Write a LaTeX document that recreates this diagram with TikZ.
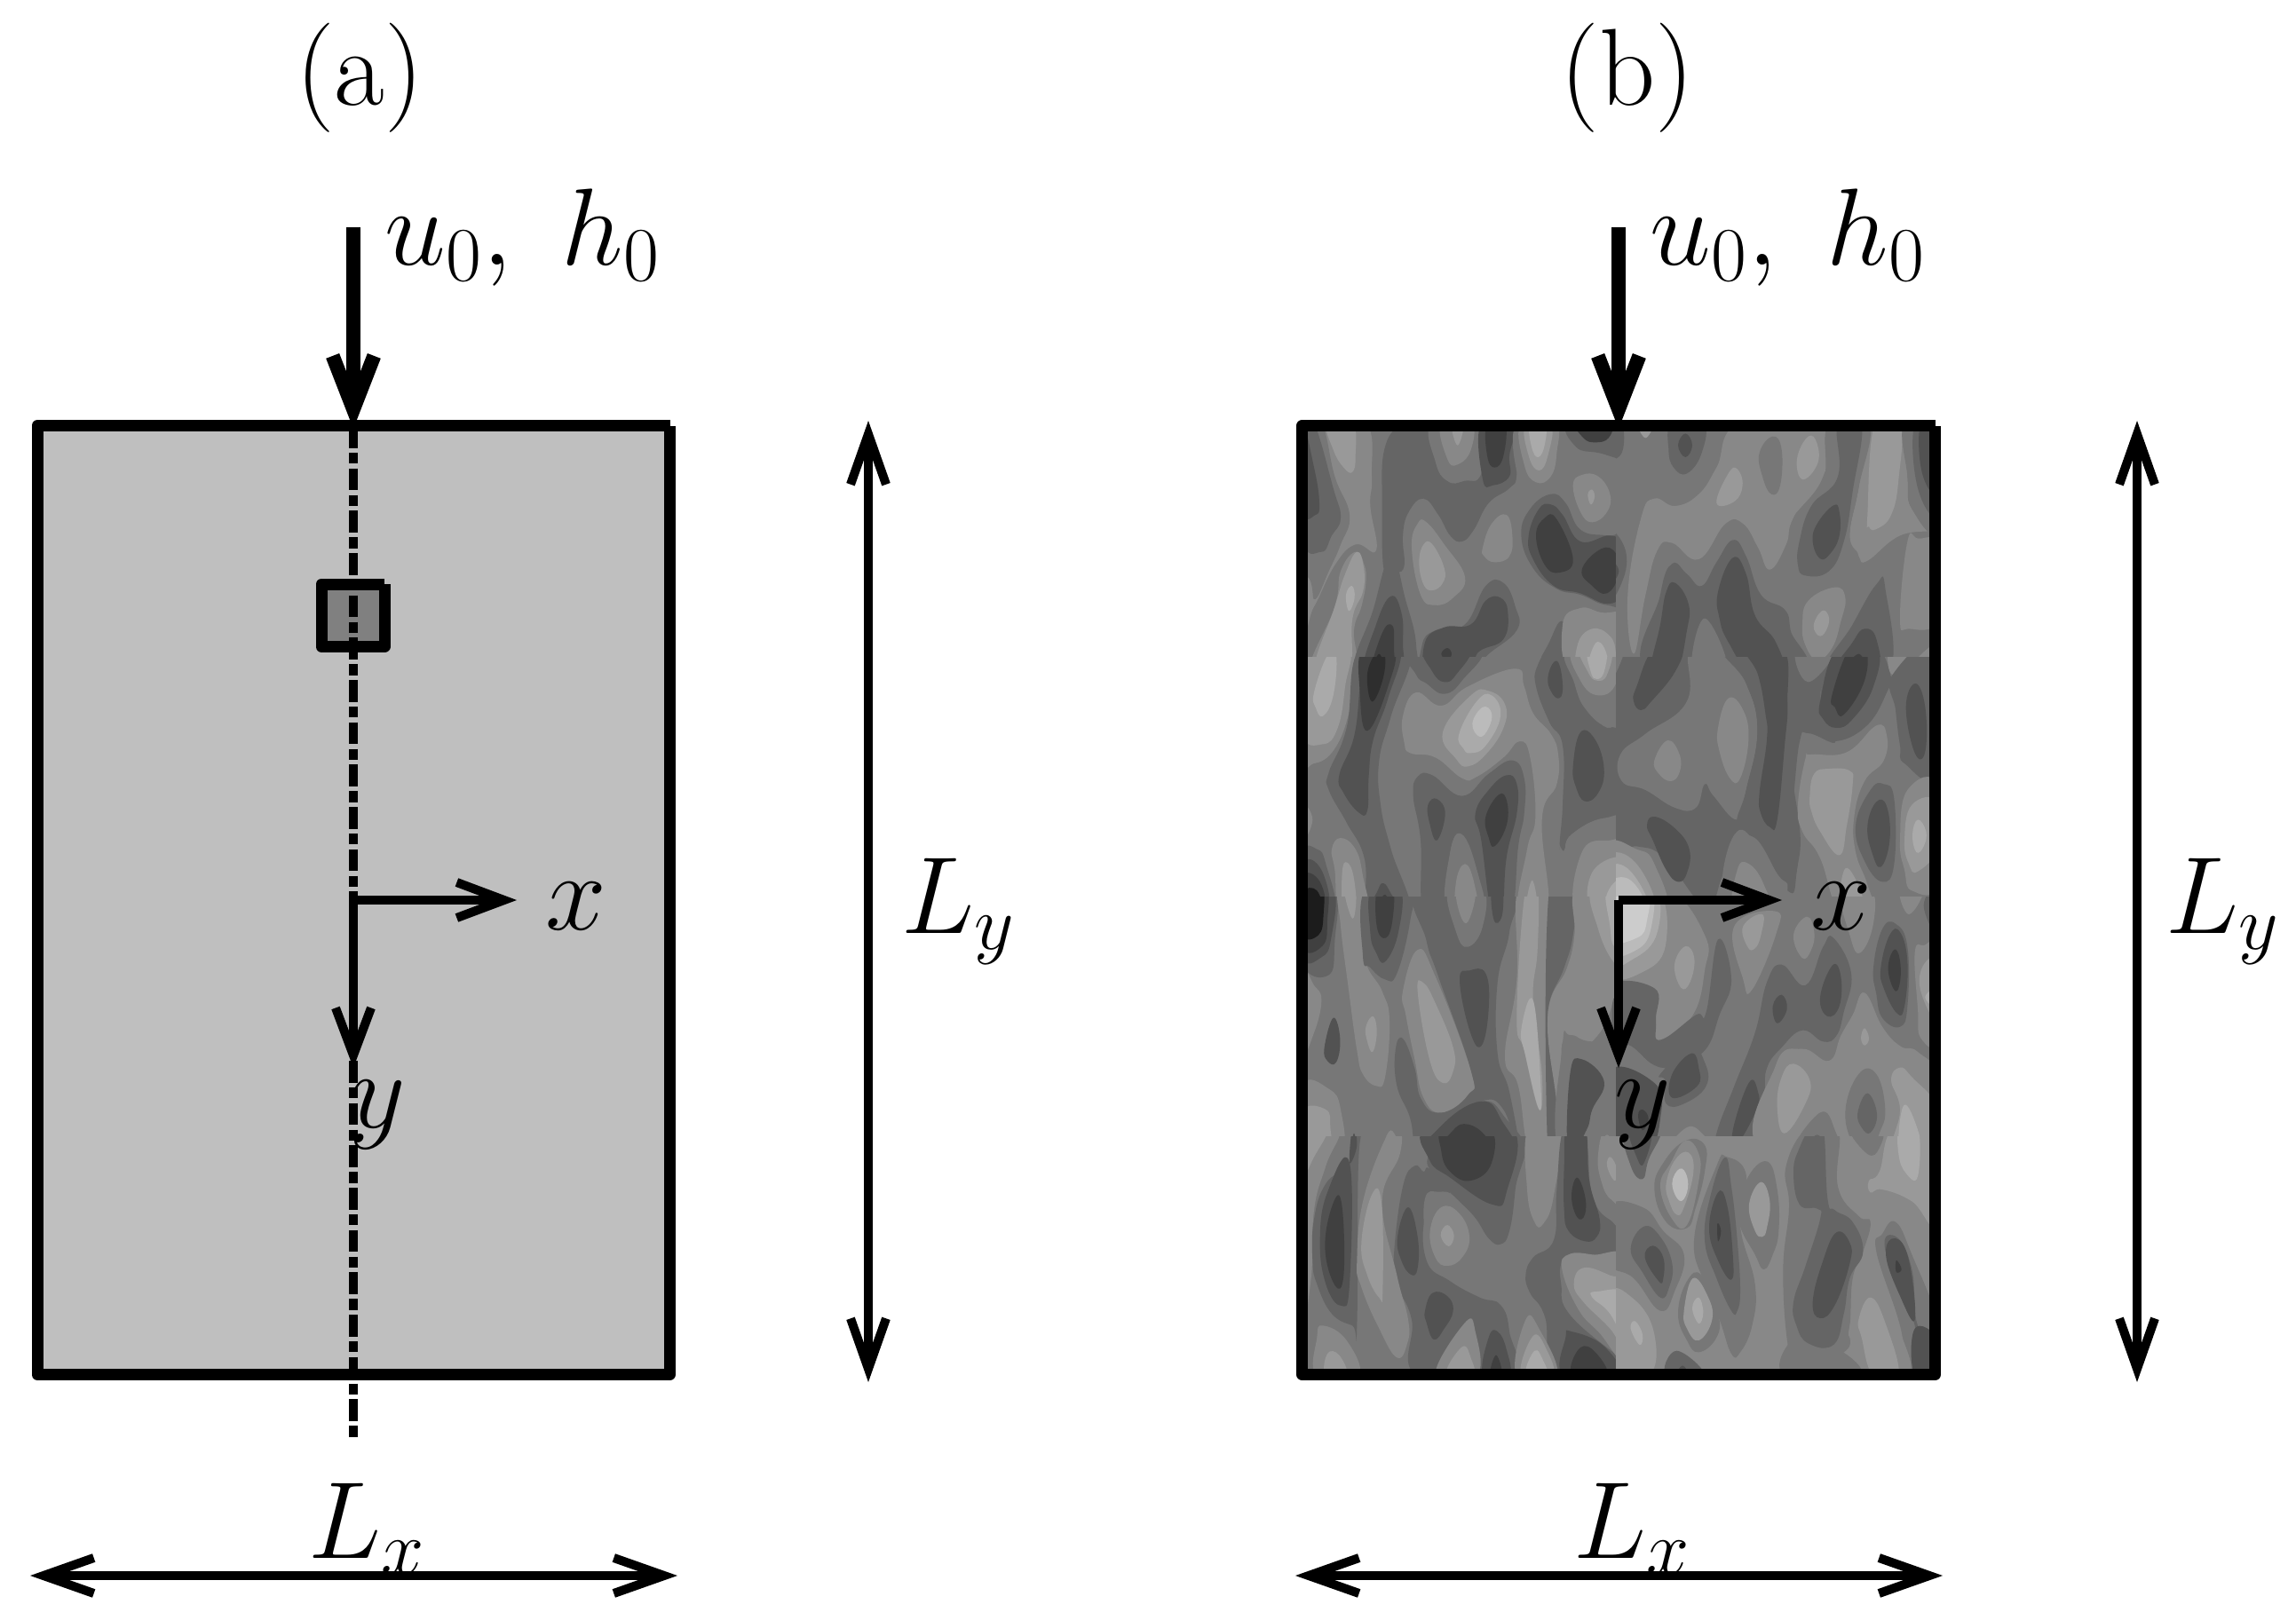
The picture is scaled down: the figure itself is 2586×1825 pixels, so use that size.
\RequirePackage{fix-cm}
\documentclass[tikz,border=0pt]{standalone}
\usetikzlibrary{arrows.meta}
\DeclareMathSizes{37}{37}{26}{18.5}
\definecolor{gA}{HTML}{1C1C1C}
\definecolor{gB}{HTML}{2E2E2E}
\definecolor{gC}{HTML}{404040}
\definecolor{gD}{HTML}{525252}
\definecolor{gE}{HTML}{656565}
\definecolor{gF}{HTML}{777777}
\definecolor{gG}{HTML}{888888}
\definecolor{gH}{HTML}{999999}
\definecolor{gI}{HTML}{AAAAAA}
\definecolor{gJ}{HTML}{BBBBBB}
\definecolor{gK}{HTML}{CCCCCC}
\newcommand{\blob}[2]{\fill[#1] plot[smooth cycle,tension=0.75] coordinates {#2};}
\newcommand{\uhlabel}{$u_0,\hspace{10.5pt}h_0$}
\tikzset{
 frame/.style={line width=3.9pt,line join=round},
 axis arrow/.style={line width=3pt,-{Straight Barb[length=16pt,width=12pt]}},
 dim arrow/.style={line width=3pt,{Straight Barb[length=17pt,width=12pt]}-{Straight Barb[length=17pt,width=12pt]}},
 inlet arrow/.style={line width=4.8pt,-{Straight Barb[length=18pt,width=14pt]}},
 label/.style={inner sep=0pt,font=\fontsize{37}{44}\selectfont},
 tile/.style={shift={#1},x=0.1pt,y=-0.1pt},
}
\begin{document}
\begin{tikzpicture}[x=0.3pt,y=-0.3pt]
\useasboundingbox (0,0) rectangle (2586,1825);
% ---------- panel (a)
\fill[black!25] (42,480) rectangle (754,1548);
\draw[frame] (754.5,479.5) -- (42,479.5) -- (42,1548.5) -- (754.5,1548.5) -- (754.5,479.5);
\fill[black!50] (362,658) rectangle (433,728);
\draw[frame] (433,658) -- (362,658) -- (362,728.5) -- (433,728.5) -- (433,658);
\coordinate (cA0) at (398,480);
\coordinate (cA1) at (398,1619);
\draw[line width=3pt,dash pattern=on 7.4pt off 1.6pt on 3.7pt off 1.6pt] (cA0) -- (cA1);
\node[label] (a) at (405,88) {(a)};
\coordinate (inA) at (398,256);
\coordinate (inAe) at (398,483);
\draw[inlet arrow] (inA) -- (inAe);
\node[label,anchor=base west] (uA) at (433,298) {\uhlabel};
\coordinate (oA) at (398,1014);
\coordinate (xA) at (582,1014);
\coordinate (yA) at (398,1203);
\draw[axis arrow] (oA) -- (xA);
\draw[axis arrow] (oA) -- (yA);
\node[label,anchor=base west] (xlA) at (614,1047) {$x$};
\node[label,anchor=base west] (ylA) at (393,1270) {$y$};
\coordinate (LyAt) at (978,474);
\coordinate (LyAb) at (978,1557);
\draw[dim arrow] (LyAt) -- (LyAb);
\node[label,anchor=base west] (LyA) at (1015,1051) {$L_y$};
\coordinate (LxAl) at (34,1775);
\coordinate (LxAr) at (763,1775);
\draw[dim arrow] (LxAl) -- (LxAr);
\node[label,anchor=base west] (LxA) at (347,1755) {$L_x$};
% ---------- panel (b): contour field, traced tile by tile
\begin{scope}
\clip (1473,486) rectangle (2173,1542);
% tile 1
\begin{scope}[tile={(1460,470)}]
\clip (0,0) rectangle (1110,840);
\fill[gF] (0,0) rectangle (1110,840);
\blob{gE}{(300,100) (370,20) (455,20) (470,130) (510,215) (570,215) (625,190) (640,20) (740,20) (745,190) (720,240) (650,290) (600,380) (560,420) (520,400) (480,330) (430,275) (380,320) (360,400) (365,500) (340,520) (320,470) (295,510) (290,300)}
\blob{gF}{(458,20) (612,20) (610,150) (570,210) (510,215) (470,150)}
\blob{gG}{(490,20) (590,20) (590,110) (545,160) (510,140)}
\blob{gH}{(525,20) (565,20) (545,95)}
\blob{gD}{(625,20) (735,20) (720,130) (720,200) (665,230) (630,210)}
\blob{gC}{(645,20) (705,20) (700,130) (670,170) (645,130)}
\blob{gF}{(745,20) (890,20) (905,180) (850,225) (790,255) (750,210)}
\blob{gG}{(760,20) (875,20) (880,120) (860,200) (810,220) (770,160)}
\blob{gH}{(775,20) (860,20) (850,130) (820,180) (785,130)}
\blob{gI}{(790,20) (840,20) (840,90) (818,135) (795,100)}
\blob{gE}{(925,20) (1130,20) (1130,135) (1020,120) (945,100)}
\blob{gC}{(950,20) (1060,20) (1055,70) (1010,85) (970,70)}
\blob{gG}{(935,230) (965,195) (1020,200) (1060,260) (1050,320) (1000,355) (960,320)}
\blob{gH}{(985,260) (1000,245) (1008,270) (995,295)}
\blob{gE}{(760,400) (790,310) (860,260) (910,290) (960,380) (1050,400) (1130,410) (1130,620) (1050,635) (960,600) (880,580) (800,510)}
\blob{gD}{(785,400) (820,310) (860,295) (900,330) (960,420) (1060,400) (1095,440) (1095,590) (1050,630) (960,595) (870,570) (800,480)}
\blob{gC}{(810,400) (840,340) (880,345) (935,480) (890,525) (840,500)}
\blob{gC}{(965,515) (1030,445) (1080,460) (1090,530) (1050,595) (1000,570)}
\blob{gG}{(630,440) (660,360) (710,330) (730,400) (720,470) (670,490) (635,470)}
\blob{gG}{(390,440) (410,360) (440,355) (500,430) (570,540) (530,610) (470,635) (420,600)}
\blob{gH}{(415,490) (430,430) (460,430) (500,510) (495,560) (460,585) (430,565)}
\blob{gG}{(85,20) (235,20) (255,200) (250,300) (270,450) (200,430) (130,500) (60,640) (20,680) (20,20)}
\blob{gH}{(105,20) (190,20) (200,130) (190,185) (160,170) (125,110)}
\blob{gF}{(20,20) (85,20) (130,200) (180,330) (150,430) (110,520) (65,615) (50,560) (20,450)}
\blob{gE}{(20,400) (85,455) (120,400) (150,340) (125,240) (60,20) (20,20)}
\blob{gD}{(20,310) (65,330) (78,290) (60,170) (20,30)}
\blob{gF}{(20,870) (20,780) (90,620) (150,500) (200,440) (250,490) (255,600) (215,800) (205,870)}
\blob{gG}{(45,870) (130,640) (150,520) (200,455) (230,500) (235,560) (220,640) (195,720) (195,870)}
\blob{gH}{(60,870) (130,640) (165,530) (205,455) (228,510) (225,590) (190,680) (175,870)}
\blob{gI}{(168,600) (188,570) (197,610) (178,655)}
\blob{gI}{(95,870) (115,810) (135,870)}
\blob{gE}{(200,870) (260,650) (320,470) (370,620) (405,770) (385,870)}
\blob{gD}{(230,870) (270,700) (320,605) (355,660) (360,760) (350,870)}
\blob{gC}{(255,870) (290,730) (325,705) (330,780) (325,870)}
\blob{gB}{(255,870) (280,800) (298,870)}
\blob{gE}{(425,770) (470,720) (570,700) (640,570) (700,560) (740,640) (745,720) (640,810) (610,870) (440,870)}
\blob{gD}{(435,760) (500,710) (590,700) (640,620) (690,610) (715,660) (700,750) (620,790) (580,840) (450,870)}
\blob{gC}{(490,800) (510,780) (525,800) (510,820)}
\blob{gE}{(815,870) (855,760) (900,690) (930,800) (930,870)}
\blob{gD}{(855,870) (870,825) (892,870)}
\blob{gG}{(900,700) (960,645) (1030,660) (1130,680) (1130,870) (935,870)}
\blob{gH}{(950,770) (1000,715) (1060,740) (1080,800) (1075,870) (960,870)}
\blob{gI}{(985,870) (1010,765) (1045,790) (1050,870)}
\end{scope}
% tile 2
\begin{scope}[tile={(1820,470)}]
\clip (0,0) rectangle (1110,840);
\fill[gF] (0,0) rectangle (1110,840);
\blob{gG}{(85,340) (130,275) (200,300) (280,260) (340,170) (420,20) (720,20) (700,200) (600,340) (575,430) (520,515) (480,440) (430,360) (370,360) (280,480) (190,425) (140,450) (100,600) (60,800) (40,600)}
\blob{gG}{(855,20) (975,20) (985,200) (1000,310) (1090,375) (960,400) (850,485) (820,470) (790,400) (820,240)}
\blob{gE}{(178,110) (190,20) (295,20) (290,120) (240,190) (195,170)}
\blob{gD}{(210,95) (235,55) (258,95) (235,135)}
\blob{gE}{(-30,20) (20,20) (20,120) (-30,130)}
\blob{gH}{(75,20) (125,20) (100,70)}
\blob{gF}{(485,120) (530,65) (560,110) (555,230) (525,260) (495,200)}
\blob{gH}{(612,140) (650,65) (680,90) (680,160) (630,210)}
\blob{gH}{(340,290) (380,190) (410,175) (428,230) (400,285)}
\blob{gF}{(720,20) (855,20) (820,240) (790,400) (820,470) (780,500) (700,530) (620,530) (620,430) (600,340) (700,220)}
\blob{gE}{(660,300) (750,200) (750,20) (830,20) (800,250) (770,420) (720,520) (640,535) (615,500) (620,420)}
\blob{gD}{(665,420) (680,360) (735,298) (755,320) (755,400) (725,460) (690,478)}
\blob{gH}{(850,330) (875,20) (960,20) (955,210) (930,330) (880,378) (855,370)}
\blob{gF}{(975,20) (1090,20) (1090,375) (1000,310) (985,200)}
\blob{gE}{(1010,20) (1090,20) (1090,320) (1020,240)}
\blob{gD}{(1030,20) (1090,20) (1090,250) (1035,190)}
\blob{gE}{(120,870) (150,600) (190,495) (240,530) (290,570) (340,490) (395,415) (440,470) (490,600) (570,650) (590,720) (610,870)}
\blob{gF}{(260,870) (300,680) (380,870)}
\blob{gD}{(120,870) (150,700) (170,590) (200,560) (245,630) (240,720) (200,870)}
\blob{gD}{(345,590) (395,475) (440,530) (470,670) (540,760) (565,870) (460,870) (380,760) (350,680)}
\blob{gG}{(630,700) (650,620) (740,575) (775,610) (760,690) (730,780) (680,820) (640,770)}
\blob{gH}{(668,705) (695,655) (718,670) (715,710) (690,740)}
\blob{gE}{(710,870) (800,700) (880,565) (910,578) (920,870)}
\blob{gD}{(740,870) (800,760) (840,715) (880,750) (880,870)}
\blob{gC}{(770,870) (820,800) (845,870)}
\blob{gG}{(960,680) (985,420) (1020,410) (1090,440) (1090,680) (990,715)}
\blob{gG}{(980,870) (1090,760) (1090,870)}
\blob{gE}{(-30,400) (25,430) (30,530) (-30,620)}
\blob{gD}{(-30,480) (10,520) (-30,570)}
\end{scope}
% tile 3
\begin{scope}[tile={(1460,740)}]
\clip (0,0) rectangle (1110,840);
\fill[gF] (0,0) rectangle (1110,840);
\blob{gG}{(20,330) (60,360) (130,310) (180,180) (195,48) (200,-30) (20,-30)}
\blob{gH}{(20,250) (90,295) (140,240) (165,100) (175,-30) (45,-30)}
\blob{gI}{(60,120) (105,-5) (135,-5) (125,130) (90,200) (65,170)}
\blob{gE}{(110,390) (170,240) (215,-30) (385,-30) (320,200) (280,350) (285,500) (320,650) (385,870) (250,870) (230,680) (170,560) (110,450)}
\blob{gD}{(145,400) (195,270) (215,100) (230,-30) (350,-30) (310,140) (260,280) (245,400) (240,520) (210,525) (160,460)}
\blob{gC}{(215,120) (225,-30) (330,-30) (310,100) (240,250)}
\blob{gB}{(240,90) (250,20) (290,-30) (298,50) (260,150)}
\blob{gG}{(20,500) (55,550) (20,620)}
\blob{gG}{(120,650) (150,612) (200,650) (225,740) (240,870) (150,870) (130,720)}
\blob{gH}{(155,730) (172,695) (195,750) (200,870) (160,870)}
\blob{gE}{(20,665) (70,650) (100,700) (130,870) (20,870)}
\blob{gD}{(20,700) (85,720) (110,870) (20,870)}
\blob{gC}{(20,740) (80,760) (95,870) (20,870)}
\blob{gA}{(20,795) (70,790) (85,870) (20,870)}
\blob{gD}{(250,870) (275,790) (295,765) (320,800) (355,870)}
\blob{gC}{(278,870) (295,805) (315,830) (325,870)}
\blob{gE}{(380,-30) (620,-30) (560,80) (500,125) (440,90) (405,60)}
\blob{gD}{(435,-30) (585,-30) (540,60) (500,85) (460,50)}
\blob{gG}{(365,290) (360,200) (405,120) (490,165) (580,100) (740,40) (770,100) (800,190) (860,260) (885,330) (880,430) (830,550) (850,870) (750,870) (780,650) (808,540) (790,340) (755,285) (700,340) (610,405) (560,410) (470,340) (385,325)}
\blob{gH}{(495,255) (590,130) (650,115) (705,160) (700,240) (640,330) (580,370) (540,345)}
\blob{gI}{(550,260) (610,150) (660,130) (690,200) (640,300) (590,325) (565,310)}
\blob{gJ}{(595,225) (630,170) (660,190) (650,240) (620,270)}
\blob{gH}{(775,870) (797,755) (815,870)}
\blob{gE}{(395,470) (410,405) (460,400) (560,470) (650,395) (730,350) (770,410) (770,530) (750,640) (725,870) (650,870) (610,720) (560,600) (520,660) (510,870) (430,870) (420,620)}
\blob{gD}{(605,530) (650,450) (710,400) (745,430) (745,530) (710,680) (695,870) (660,870) (625,620)}
\blob{gC}{(640,540) (685,465) (712,490) (710,570) (670,640) (650,610)}
\blob{gD}{(445,500) (475,480) (503,530) (475,620) (450,560)}
\blob{gF}{(510,870) (520,660) (560,600) (610,720) (630,870)}
\blob{gG}{(540,760) (570,700) (600,760) (610,870) (545,870)}
\blob{gE}{(900,300) (855,220) (810,100) (815,30) (860,-30) (925,-30) (960,130) (1050,240) (1130,200) (1130,570) (1040,545) (930,600) (905,655) (890,640) (900,500)}
\blob{gD}{(850,70) (870,18) (890,30) (900,110) (885,140) (860,115)}
\blob{gD}{(935,370) (960,255) (1010,280) (1040,380) (1020,460) (975,488) (945,440)}
\blob{gF}{(920,-30) (1130,-30) (1130,200) (1055,235) (980,180) (940,90)}
\blob{gG}{(935,-30) (1090,-30) (1080,90) (1020,130) (960,80)}
\blob{gH}{(960,-30) (1060,-30) (1050,60) (1015,80) (985,50)}
\blob{gI}{(985,-30) (1045,-30) (1040,50) (1015,75) (995,50)}
\blob{gF}{(890,650) (905,655) (930,600) (1040,545) (1130,575) (1130,870) (945,870)}
\blob{gG}{(950,870) (965,660) (1060,620) (1130,640) (1130,870)}
\blob{gH}{(1000,870) (1005,720) (1130,690) (1130,870)}
\blob{gI}{(1050,870) (1060,780) (1130,745) (1130,870)}
\blob{gF}{(1095,370) (1130,300) (1130,430)}
\end{scope}
% tile 4
\begin{scope}[tile={(1820,740)}]
\clip (0,0) rectangle (1110,840);
\fill[gF] (0,0) rectangle (1110,840);
\blob{gE}{(-30,100) (60,-30) (250,-30) (480,-30) (610,500) (610,730) (580,790) (480,620) (410,590) (360,740) (300,840) (165,680) (70,640) (-30,640)}
\blob{gF}{(-30,-30) (30,-30) (-30,100)}
\blob{gD}{(60,150) (70,100) (130,-30) (220,-30) (200,50) (120,150) (85,180)}
\blob{gF}{(15,330) (100,260) (240,150) (250,-30) (360,-30) (440,90) (478,250) (440,450) (410,550) (330,470) (300,430) (270,510) (200,510) (100,450) (20,420)}
\blob{gG}{(345,240) (380,140) (430,180) (448,280) (420,410) (385,410) (350,320)}
\blob{gG}{(130,350) (175,282) (215,330) (215,390) (185,420) (145,395)}
\blob{gE}{(365,-30) (560,-30) (580,150) (570,350) (610,600) (610,730) (580,780) (540,700) (480,620) (410,570) (440,450) (478,250) (440,90)}
\blob{gE}{(585,-30) (760,-30) (700,90) (690,160) (700,220) (740,290) (650,258) (620,290) (590,520) (560,350) (580,150)}
\blob{gF}{(610,-30) (740,-30) (650,85)}
\blob{gD}{(440,-30) (565,-30) (580,150) (570,300) (545,550) (520,575) (490,530) (485,460) (510,280) (505,190) (480,60)}
\blob{gD}{(105,570) (130,540) (200,580) (248,650) (240,730) (210,760) (170,720) (125,620)}
\blob{gF}{(360,740) (410,590) (480,640) (550,740) (580,780) (540,870) (380,870)}
\blob{gG}{(410,720) (450,700) (500,770) (520,870) (400,870)}
\blob{gG}{(-30,640) (70,650) (130,700) (165,870) (-30,870)}
\blob{gH}{(-30,680) (70,700) (130,870) (-30,870)}
\blob{gI}{(-30,720) (50,725) (110,870) (-30,870)}
\blob{gJ}{(-30,770) (50,755) (100,870) (-30,870)}
\blob{gG}{(615,500) (640,345) (660,330) (780,322) (880,232) (915,265) (905,350) (840,420) (805,540) (810,660) (850,770) (870,870) (760,870) (690,680) (630,590)}
\blob{gH}{(655,470) (670,395) (720,378) (790,385) (800,430) (780,570) (755,670) (690,590) (660,520)}
\blob{gE}{(690,160) (700,90) (760,-30) (880,-30) (930,70) (920,110) (850,230) (740,285) (680,240)}
\blob{gD}{(690,150) (750,-30) (880,-30) (870,100) (800,210) (745,240) (700,210)}
\blob{gC}{(730,130) (790,-30) (843,-30) (840,80) (770,195) (740,170)}
\blob{gG}{(925,-30) (1000,-30) (935,60)}
\blob{gE}{(935,60) (1090,-30) (1090,390) (975,360) (960,300) (945,180)}
\blob{gD}{(980,170) (1012,90) (1045,170) (1045,320) (1010,325)}
\blob{gE}{(810,570) (860,450) (905,430) (940,480) (940,700) (900,760) (840,690)}
\blob{gD}{(850,570) (880,490) (915,505) (925,620) (895,710) (865,660)}
\blob{gG}{(960,620) (985,450) (1090,440) (1090,760) (1000,790) (975,720)}
\blob{gH}{(975,620) (1000,500) (1090,490) (1090,640) (1020,725) (990,700)}
\blob{gI}{(1002,600) (1020,550) (1048,590) (1040,640) (1015,660)}
\blob{gH}{(760,870) (775,715) (830,800) (830,870)}
\end{scope}
% tile 5
\begin{scope}[tile={(1460,1010)}]
\clip (0,0) rectangle (1110,840);
\fill[gF] (0,0) rectangle (1110,840);
\blob{gE}{(20,220) (110,265) (130,150) (130,-30) (20,-30)}
\blob{gD}{(20,200) (85,205) (118,140) (125,-30) (20,-30)}
\blob{gC}{(20,170) (90,165) (105,80) (100,-30) (20,-30)}
\blob{gA}{(20,125) (75,130) (92,60) (85,-30) (20,-30)}
\blob{gG}{(20,260) (60,300) (85,350) (60,460) (20,520)}
\blob{gG}{(20,640) (110,650) (150,720) (150,870) (20,870)}
\blob{gH}{(20,725) (100,720) (115,780) (110,870) (20,870)}
\blob{gD}{(95,510) (125,410) (148,480) (135,560) (105,555)}
\blob{gG}{(145,-30) (225,-30) (230,200) (290,320) (315,420) (300,610) (270,640) (225,600) (205,520) (175,300) (150,100)}
\blob{gH}{(235,440) (260,405) (272,460) (258,525) (240,490)}
\blob{gH}{(165,-30) (200,-30) (195,70) (175,40)}
\blob{gE}{(225,200) (235,-30) (385,-30) (385,80) (340,260) (300,280) (250,240)}
\blob{gD}{(250,120) (255,-30) (350,-30) (345,120) (300,220) (270,190)}
\blob{gC}{(272,100) (275,-30) (325,-30) (325,80) (302,140)}
\blob{gE}{(415,-30) (720,-30) (720,120) (680,290) (680,530) (720,660) (755,870) (700,720) (630,690) (530,760) (450,870) (405,870) (385,750) (340,640) (335,520) (360,480) (400,580) (420,680) (480,730) (580,670) (590,590) (480,270) (440,150)}
\blob{gG}{(360,320) (410,180) (470,270) (590,590) (580,670) (490,730) (430,680) (400,550) (370,400)}
\blob{gH}{(410,320) (430,292) (470,360) (530,510) (530,590) (495,630) (450,550)}
\blob{gF}{(515,-30) (630,-30) (630,100) (580,170) (540,120)}
\blob{gG}{(545,-30) (605,-30) (580,85) (550,50)}
\blob{gD}{(660,-30) (695,-30) (695,65) (668,80)}
\blob{gD}{(552,280) (585,250) (640,260) (650,380) (625,505) (585,450)}
\blob{gE}{(450,870) (500,765) (625,692) (700,740) (755,870)}
\blob{gD}{(450,870) (500,765) (625,692) (690,750) (720,870)}
\blob{gC}{(490,870) (530,790) (580,770) (640,810) (660,870)}
\blob{gG}{(705,540) (745,280) (750,-30) (855,-30) (865,150) (850,420) (870,700) (870,870) (790,870) (750,640)}
\blob{gH}{(745,400) (775,-30) (815,-30) (815,180) (800,350) (830,600) (820,720) (770,520)}
\blob{gI}{(760,450) (800,350) (825,620) (820,718) (775,540)}
\blob{gD}{(185,870) (195,800) (205,870)}
\blob{gG}{(290,870) (320,790) (350,870)}
\blob{gE}{(855,-30) (945,-30) (935,130) (905,240) (850,390) (870,600) (895,870) (850,870)}
\blob{gE}{(1075,320) (1130,310) (1130,520) (1075,490)}
\blob{gG}{(945,-30) (1075,-30) (1075,320) (1000,490) (940,470) (905,480) (895,560) (900,800) (895,870) (880,700) (850,400) (915,240) (940,130)}
\blob{gF}{(895,870) (900,500) (925,468) (1000,490) (1130,470) (1130,870)}
\blob{gD}{(920,870) (925,600) (965,550) (1040,625) (1000,720) (980,790)}
\blob{gG}{(915,280) (945,130) (1000,-30) (1130,-30) (1130,300) (1060,350) (1000,420) (950,400) (915,300)}
\blob{gH}{(1000,-30) (1020,110) (1075,225) (1130,250) (1130,-30)}
\blob{gI}{(1050,-30) (1060,100) (1075,170) (1130,200) (1130,-30)}
\blob{gF}{(1000,870) (1040,745) (1090,800) (1100,870)}
\blob{gG}{(1025,870) (1050,805) (1080,870)}
\end{scope}
% tile 6
\begin{scope}[tile={(1820,1010)}]
\clip (0,0) rectangle (1110,840);
\fill[gF] (0,0) rectangle (1110,840);
\blob{gG}{(-30,-30) (170,-30) (300,130) (300,250) (260,400) (160,480) (125,460) (135,350) (120,310) (-30,305)}
\blob{gE}{(305,390) (345,145) (390,280) (350,400) (300,520) (200,570) (130,570) (40,500) (-30,520) (-30,310) (130,310) (135,420) (150,485) (270,400)}
\blob{gH}{(-30,250) (100,250) (170,150) (135,-30) (-30,-30)}
\blob{gI}{(-30,215) (60,210) (140,120) (125,-30) (-30,-30)}
\blob{gJ}{(-30,180) (70,180) (120,100) (110,-30) (-30,-30)}
\blob{gK}{(-30,140) (70,140) (105,80) (100,-30) (-30,-30)}
\blob{gH}{(198,230) (235,168) (265,210) (250,290) (220,308)}
\blob{gE}{(150,600) (250,510) (300,560) (305,640) (230,700) (170,700) (165,620)}
\blob{gD}{(190,600) (255,530) (280,580) (275,640) (190,680)}
\blob{gD}{(-30,595) (130,630) (150,750) (100,870) (-30,870)}
\blob{gC}{(75,740) (90,720) (110,750) (90,790)}
\blob{gG}{(400,100) (540,50) (540,130) (460,315) (430,280)}
\blob{gH}{(430,100) (495,60) (490,130) (470,175) (445,170)}
\blob{gG}{(600,130) (645,68) (670,120) (660,180) (630,208)}
\blob{gE}{(340,800) (400,640) (470,460) (510,290) (560,230) (640,300) (700,170) (735,140) (795,260) (770,390) (745,470) (700,490) (630,452) (560,510) (510,580) (500,680) (470,870) (340,870)}
\blob{gD}{(690,340) (732,232) (760,270) (755,370) (715,405)}
\blob{gD}{(530,370) (560,332) (578,380) (545,428)}
\blob{gD}{(395,790) (450,628) (480,660) (475,720) (410,835)}
\blob{gG}{(510,870) (540,570) (630,515) (720,555) (760,470) (800,400) (840,325) (900,440) (960,505) (1020,525) (1090,620) (1090,870)}
\blob{gG}{(760,-30) (860,-30) (870,90) (825,190) (790,130)}
\blob{gE}{(870,240) (900,110) (945,92) (985,170) (985,370) (960,440) (900,410) (880,330)}
\blob{gD}{(895,240) (925,130) (960,120) (985,220) (975,370) (950,395) (905,310)}
\blob{gC}{(920,250) (935,185) (955,195) (962,270) (945,320)}
\blob{gG}{(1020,380) (1010,190) (1040,165) (1090,180) (1090,480) (1030,478)}
\blob{gH}{(1030,320) (1040,230) (1090,225) (1090,420)}
\blob{gI}{(1045,340) (1090,310) (1090,380)}
\blob{gH}{(828,478) (840,445) (855,480) (840,503)}
\blob{gG}{(960,-30) (1040,-30) (990,60)}
\blob{gE}{(1040,30) (1090,-30) (1090,130)}
\blob{gH}{(545,710) (560,610) (600,565) (655,620) (640,700) (570,800)}
\blob{gF}{(775,730) (820,600) (880,600) (910,720) (890,800) (860,860) (810,850)}
\blob{gE}{(817,730) (850,665) (882,735) (860,798) (830,780)}
\blob{gH}{(930,620) (960,578) (1000,610) (1090,720) (1090,870) (940,870) (960,720)}
\blob{gI}{(960,870) (970,710) (1010,760) (1030,870)}
\blob{gF}{(600,870) (690,730) (740,790) (745,870)}
\blob{gE}{(640,870) (680,805) (710,870)}
\blob{gG}{(180,870) (240,780) (300,810) (330,870)}
\blob{gH}{(205,870) (235,825) (260,870)}
\end{scope}
% tile 7
\begin{scope}[tile={(1460,1280)}]
\clip (0,0) rectangle (1110,840);
\fill[gF] (0,0) rectangle (1110,840);
\blob{gG}{(20,580) (20,-30) (145,-30) (100,100) (60,250) (50,480)}
\blob{gH}{(20,130) (20,-30) (105,-30) (60,70)}
\blob{gE}{(330,400) (360,170) (400,100) (430,120) (450,110) (520,190) (440,260) (440,420) (520,490) (620,545) (690,570) (720,660) (720,810) (410,810) (390,620) (340,500)}
\blob{gE}{(445,60) (450,-30) (755,-30) (740,180) (720,320) (690,365) (650,345) (600,270) (520,190) (450,110)}
\blob{gD}{(445,-30) (725,-30) (710,190) (660,230) (520,140) (450,80)}
\blob{gC}{(490,50) (500,-30) (650,-30) (660,90) (590,150) (520,120)}
\blob{gF}{(435,350) (435,210) (480,188) (540,210) (620,330) (600,410) (520,440) (450,420)}
\blob{gG}{(452,320) (490,240) (550,260) (585,340) (560,410) (510,438) (470,410)}
\blob{gH}{(488,335) (510,300) (533,335) (515,372)}
\blob{gE}{(55,420) (60,280) (100,160) (180,90) (205,-30) (230,-30) (210,90) (205,640) (190,640) (120,600) (70,500)}
\blob{gD}{(80,350) (105,190) (180,90) (180,500) (150,572) (100,500)}
\blob{gC}{(97,370) (128,218) (155,240) (160,470) (130,503)}
\blob{gD}{(190,-30) (205,30) (180,90)}
\blob{gG}{(205,420) (230,200) (320,-30) (350,-30) (350,60) (290,220) (340,470) (378,620) (375,700) (340,748) (280,650) (220,510)}
\blob{gH}{(220,360) (255,198) (288,225) (292,520) (280,545) (240,470)}
\blob{gD}{(342,340) (378,240) (410,340) (410,445) (388,468) (355,420)}
\blob{gD}{(435,590) (460,530) (510,540) (530,590) (500,650) (465,687) (440,630)}
\blob{gG}{(470,810) (570,630) (605,660) (610,810)}
\blob{gH}{(505,810) (560,712) (590,750) (595,810)}
\blob{gD}{(632,810) (650,680) (680,660) (710,720) (718,810)}
\blob{gC}{(655,810) (675,740) (695,810)}
\blob{gG}{(70,680) (90,640) (170,690) (210,810) (70,810)}
\blob{gH}{(100,810) (105,735) (145,740) (170,810)}
\blob{gG}{(785,-30) (890,-30) (870,200) (835,295) (805,290) (780,180)}
\blob{gE}{(775,470) (800,410) (870,350) (880,180) (905,-30) (975,-30) (1000,200) (1070,290) (1130,300) (1130,420) (950,400) (900,420) (895,500) (930,610) (1130,780) (1130,810) (885,810) (840,610) (790,530)}
\blob{gD}{(905,250) (905,100) (915,-30) (975,-30) (990,150) (1025,280) (1015,340) (975,355) (920,320)}
\blob{gC}{(930,205) (948,140) (975,200) (975,265) (950,275)}
\blob{gF}{(995,-30) (1130,-30) (1130,295) (1060,280) (1010,180)}
\blob{gG}{(1020,60) (1050,-30) (1130,-30) (1130,230) (1065,215) (1030,150)}
\blob{gH}{(1050,100) (1062,70) (1085,115) (1075,150)}
\blob{gG}{(898,450) (920,400) (1000,400) (1130,430) (1130,760) (1020,660) (950,580)}
\blob{gH}{(938,500) (970,445) (1060,470) (1130,510) (1130,740) (1060,650) (970,560)}
\blob{gI}{(1000,545) (1015,525) (1130,540) (1130,720) (1060,600)}
\blob{gD}{(905,810) (910,680) (930,660) (1040,710) (1085,810)}
\blob{gC}{(935,810) (950,725) (1000,720) (1050,810)}
\blob{gG}{(745,810) (775,620) (820,650) (880,810)}
\blob{gH}{(760,810) (800,675) (845,720) (865,810)}
\blob{gI}{(775,810) (805,725) (835,760) (845,810)}
\end{scope}
% tile 8
\begin{scope}[tile={(1820,1280)}]
\clip (0,0) rectangle (1110,840);
\fill[gG] (0,0) rectangle (1110,840);
\blob{gF}{(-30,240) (90,240) (160,320) (230,400) (200,520) (150,590) (60,480) (-30,420)}
\blob{gE}{(30,-30) (150,-30) (110,80) (90,145) (50,100)}
\blob{gD}{(45,-30) (120,-30) (95,90) (70,70)}
\blob{gF}{(130,180) (160,90) (235,15) (300,30) (300,120) (270,240) (240,310) (170,290)}
\blob{gG}{(150,170) (185,90) (235,15) (280,60) (280,150) (240,300) (190,280)}
\blob{gH}{(170,160) (200,80) (245,55) (262,120) (230,240) (205,265) (180,220)}
\blob{gJ}{(190,160) (215,110) (240,135) (240,190) (215,218)}
\blob{gF}{(265,340) (340,100) (375,70) (440,130) (420,300) (470,500) (460,640) (420,730) (390,735) (350,620) (300,500)}
\blob{gE}{(300,350) (320,200) (368,72) (390,170) (410,350) (420,520) (410,590) (390,590) (340,480)}
\blob{gD}{(315,310) (345,190) (375,230) (395,400) (390,485) (345,420)}
\blob{gC}{(343,295) (355,320) (345,355)}
\blob{gF}{(415,280) (440,150) (510,85) (545,180) (550,320) (530,400) (500,450) (470,400)}
\blob{gH}{(450,230) (490,155) (520,220) (510,310) (495,340) (470,320)}
\blob{gE}{(50,380) (95,305) (150,340) (190,430) (180,510) (150,545) (90,460)}
\blob{gD}{(98,410) (125,370) (160,410) (160,480) (145,490)}
\blob{gG}{(-30,480) (90,540) (160,680) (120,810) (-30,810)}
\blob{gH}{(-30,540) (60,550) (130,670) (110,810) (-30,810)}
\blob{gI}{(50,650) (65,625) (90,670) (80,705)}
\blob{gF}{(210,600) (240,490) (290,470) (345,600) (340,680) (280,730) (240,690)}
\blob{gH}{(230,590) (260,480) (310,540) (325,620) (280,690) (240,650)}
\blob{gI}{(258,580) (280,545) (295,595) (280,633)}
\blob{gE}{(170,810) (205,725) (300,810)}
\blob{gD}{(205,810) (225,775) (245,810)}
\blob{gF}{(565,450) (585,240) (575,100) (650,-30) (750,-30) (750,170) (820,270) (860,290) (835,390) (800,480) (790,640) (770,730) (610,770) (580,700)}
\blob{gE}{(600,120) (620,40) (660,-30) (700,-30) (715,210) (740,250) (800,290) (835,390) (790,480) (770,600) (735,705) (650,700) (610,640) (600,560) (640,440) (690,280) (680,245) (620,230)}
\blob{gD}{(665,560) (700,420) (745,325) (790,360) (790,430) (740,570) (690,615)}
\blob{gH}{(855,150) (890,120) (940,-30) (1090,-30) (1090,300) (1000,220) (900,180) (860,190)}
\blob{gI}{(955,60) (960,-30) (1020,-30) (1020,135) (980,125)}
\blob{gF}{(790,-30) (895,-30) (890,40) (850,60)}
\blob{gF}{(880,390) (900,330) (945,290) (1000,400) (1090,640) (1090,810) (990,810) (960,640)}
\blob{gE}{(910,385) (950,342) (1000,450) (1020,640) (1090,690) (1090,810) (1010,810) (1010,640)}
\blob{gD}{(912,400) (945,345) (990,420) (1010,620) (960,540)}
\blob{gC}{(945,430) (950,420) (965,450) (948,460)}
\blob{gG}{(790,640) (840,490) (880,500) (960,660) (990,810) (860,810) (800,700)}
\blob{gH}{(820,620) (860,545) (910,630) (955,810) (870,810) (830,680)}
\blob{gD}{(1010,650) (1090,690) (1090,810) (1010,810)}
\blob{gF}{(575,810) (585,700) (650,725) (750,720) (820,810)}
\end{scope}
\end{scope}
\draw[frame] (2179.5,479.5) -- (1466.5,479.5) -- (1466.5,1548.5) -- (2179.5,1548.5) -- (2179.5,479.5);
\node[label] (b) at (1833,88) {(b)};
\coordinate (inB) at (1823,256);
\coordinate (inBe) at (1823,483);
\draw[inlet arrow] (inB) -- (inBe);
\node[label,anchor=base west] (uB) at (1858,298) {\uhlabel};
\coordinate (oB) at (1823,1014);
\coordinate (xB) at (2007,1014);
\coordinate (yB) at (1823,1203);
\draw[axis arrow] (oB) -- (xB);
\draw[axis arrow] (oB) -- (yB);
\node[label,anchor=base west] (xlB) at (2039,1047) {$x$};
\node[label,anchor=base west] (ylB) at (1818,1270) {$y$};
\coordinate (LyBt) at (2407,474);
\coordinate (LyBb) at (2407,1557);
\draw[dim arrow] (LyBt) -- (LyBb);
\node[label,anchor=base west] (LyB) at (2439,1051) {$L_y$};
\coordinate (LxBl) at (1459,1775);
\coordinate (LxBr) at (2188,1775);
\draw[dim arrow] (LxBl) -- (LxBr);
\node[label,anchor=base west] (LxB) at (1772,1755) {$L_x$};
\end{tikzpicture}
\end{document}
